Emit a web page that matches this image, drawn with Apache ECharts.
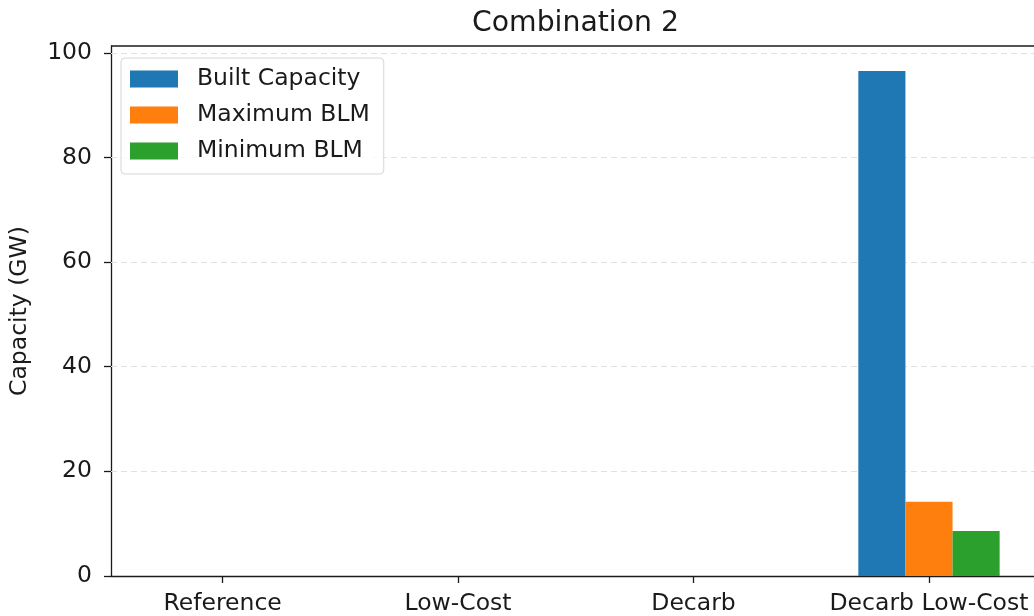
<!DOCTYPE html>
<html>
<head>
<meta charset="utf-8">
<script src="https://cdn.jsdelivr.net/npm/echarts@6/dist/echarts.min.js"></script>
<style>
  html, body { margin: 0; padding: 0; background: #fff; }
  #chart { width: 1034px; height: 616px; }
</style>
</head>
<body>
<div id="chart"></div>
<script>
// Scenario categories along the x axis
const categories = ['Reference', 'Low-Cost', 'Decarb', 'Decarb Low-Cost'];
// Capacity (GW) per scenario
const builtCapacity = [0, 0, 0, 96.5];
const maximumBLM = [0, 0, 0, 14.2];
const minimumBLM = [0, 0, 0, 8.6];
// Y axis ticks
const yTicks = [0, 20, 40, 60, 80, 100];

const FONT = 'DejaVu Sans';
const INK = '#1a1a1a';
const LABEL_SIZE = 23.5;
const colors = ['#1f77b4', '#ff7f0e', '#2ca02c'];
const seriesNames = ['Built Capacity', 'Maximum BLM', 'Minimum BLM'];
const seriesValues = [builtCapacity, maximumBLM, minimumBLM];
const catIndex = categories.map((c, i) => i);

// visible x range (the right side of the plot runs off the canvas)
const X_MIN = -0.474, X_MAX = 3.446, Y_MAX = 101.3;

const chart = echarts.init(document.getElementById('chart'), null, { renderer: 'canvas' });

chart.setOption({
  animation: false,
  backgroundColor: '#ffffff',
  textStyle: { fontFamily: FONT },
  title: {
    text: 'Combination 2',
    left: 467, top: 5,
    textStyle: { fontFamily: FONT, fontSize: 28.3, fontWeight: 'normal', color: INK }
  },
  legend: {
    orient: 'vertical',
    left: 121, top: 58,
    icon: 'rect',
    itemWidth: 48, itemHeight: 17, itemGap: 12,
    padding: [9, 14, 11, 9],
    backgroundColor: 'rgba(255,255,255,0.8)',
    borderColor: '#d6d6d6', borderWidth: 1, borderRadius: 4,
    textStyle: { fontFamily: FONT, fontSize: LABEL_SIZE, lineHeight: 17, color: INK, padding: [0, 0, 0, 14] },
    data: seriesNames.map((n, i) => ({ name: n, itemStyle: { color: colors[i] } }))
  },
  grid: { left: 110, top: 46, right: 0, bottom: 40, containLabel: false },
  xAxis: {
    type: 'value',
    min: X_MIN, max: X_MAX,
    splitLine: { show: false },
    axisLine: { show: true, onZero: false, lineStyle: { color: INK, width: 1.3 } },
    axisTick: { show: true, customValues: catIndex, length: 7, lineStyle: { color: INK, width: 1.3 } },
    axisLabel: {
      customValues: catIndex,
      formatter: v => categories[Math.round(v)],
      fontFamily: FONT, fontSize: LABEL_SIZE, color: INK, margin: 16
    }
  },
  yAxis: {
    type: 'value',
    min: 0, max: Y_MAX,
    name: 'Capacity (GW)',
    nameLocation: 'middle', nameGap: 79,
    nameTextStyle: { fontFamily: FONT, fontSize: LABEL_SIZE, color: INK },
    axisLine: { show: true, onZero: false, lineStyle: { color: INK, width: 1.3 } },
    axisTick: { show: true, customValues: yTicks, length: 7, lineStyle: { color: INK, width: 1.3 } },
    axisLabel: { customValues: yTicks, fontFamily: FONT, fontSize: LABEL_SIZE, color: INK, margin: 19 },
    splitLine: { show: false }
  },
  series: [
    ...seriesNames.map((name, si) => ({
      name,
      type: 'bar',
      barWidth: 47.1,
      barGap: '0%',
      z: 3,
      itemStyle: { color: colors[si] },
      data: seriesValues[si].map((v, i) => [catIndex[i], v])
    })),
    // dashed horizontal grid lines, kept beneath the bars
    {
      type: 'line',
      silent: true,
      data: [],
      z: 1,
      markLine: {
        z: 1,
        silent: true, symbol: 'none', label: { show: false },
        lineStyle: { color: '#e0e0e0', type: [6, 4], width: 1 },
        data: yTicks.filter(t => t > 0).map(t => ({ yAxis: t }))
      }
    }
  ]
});

// top spine of the axes frame
const p0 = chart.convertToPixel({ gridIndex: 0 }, [X_MIN, Y_MAX]);
const p1 = chart.convertToPixel({ gridIndex: 0 }, [X_MAX, Y_MAX]);
chart.setOption({
  graphic: [{
    type: 'line', z: 100,
    shape: { x1: p0[0], y1: p0[1], x2: p1[0], y2: p1[1] },
    style: { stroke: INK, lineWidth: 1.3 }
  }]
});
</script>
</body>
</html>
